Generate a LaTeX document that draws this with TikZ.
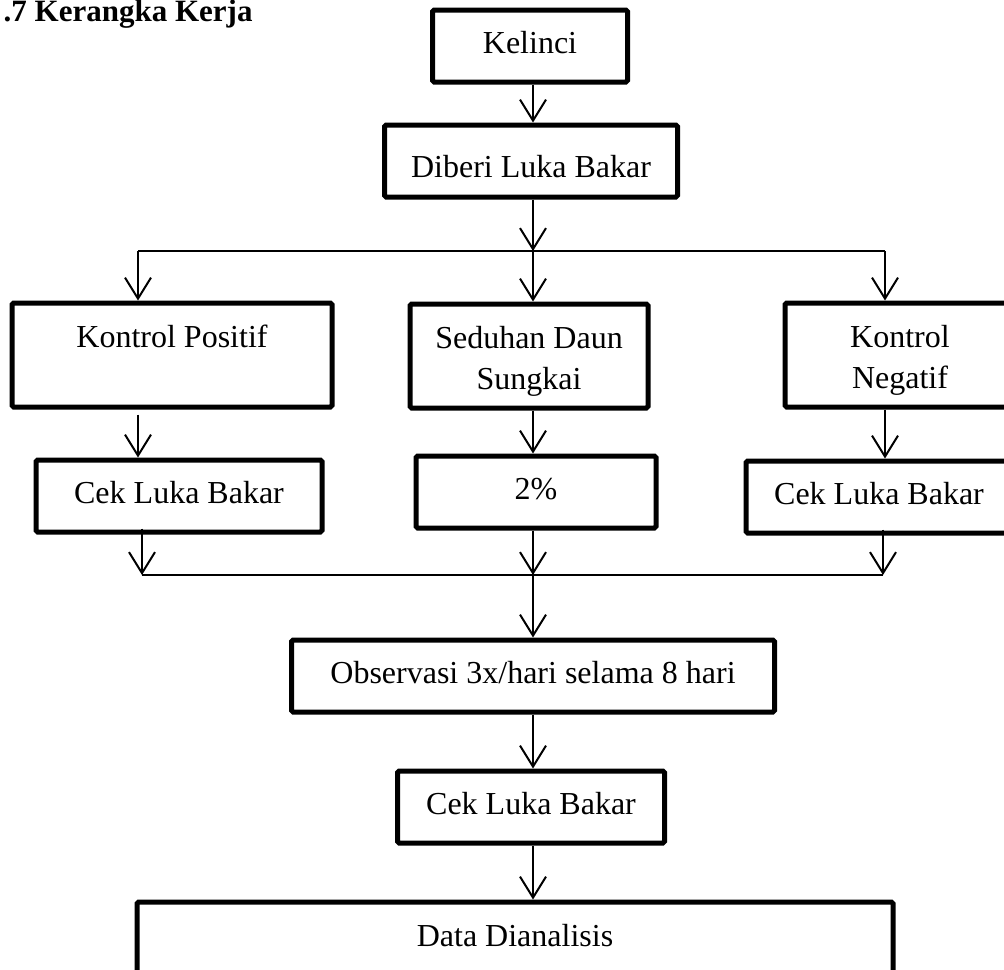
\documentclass[tikz,border=0pt]{standalone}
\usepackage{fontspec}
\setmainfont{Liberation Serif}
\usepackage{tikz}
\usetikzlibrary{arrows.meta}
\usetikzlibrary{calc}
\tikzset{>={Straight Barb[length=10.5pt,width=13pt]}}
\tikzset{
  kotak/.style={draw,line width=2.5pt,rounded corners=0.8pt,inner sep=0pt,align=center,font=\fontsize{16}{20.5}\selectfont},
  satu/.style={kotak,minimum height=36pt,text height=11.5pt,text depth=4.5pt},
  dua/.style={kotak,minimum height=52pt}
}
\newcommand{\barisatas}{\rule{0pt}{16pt}}
\newcommand{\barisbawah}{\rule[-3.5pt]{0pt}{0pt}}

\begin{document}
\begin{tikzpicture}[x=0.5pt,y=-0.5pt,line width=1pt]
    \useasboundingbox (0,0) rectangle (1004,969);
    \node[anchor=base west,font=\fontsize{15.5}{18}\selectfont\bfseries] (judul) at (-4,21) {.7 Kerangka Kerja};

    \node[satu,minimum width=97.5pt] (kelinci) at (530,46) {Kelinci};
    \node[satu,minimum width=146.5pt,text height=16pt,text depth=0pt] (luka) at (531,161) {Diberi Luka Bakar};

    \node[dua,minimum width=160pt] (kpos) at (172,355) {\barisatas Kontrol Positif\\ \barisbawah};
    \node[dua,minimum width=119pt] (sedu) at (529,356) {\barisatas Seduhan Daun\\Sungkai};
    \node[dua,minimum width=115pt] (kneg) at (900,355) {\barisatas Kontrol\\Negatif};

    \node[satu,minimum width=143pt] (cekA) at (179,496) {Cek Luka Bakar};
    \node[satu,minimum width=120pt] (persen) at (536,492) {2\%};
    \node[satu,minimum width=133pt] (cekB) at (879,497) {Cek Luka Bakar};

    \node[satu,minimum width=241.5pt] (obs) at (533,676) {Observasi 3x/hari selama 8 hari};
    \node[satu,minimum width=133.5pt] (cekC) at (531,807) {Cek Luka Bakar};
    \node[dua,minimum width=378pt] (data) at (515,954) {\barisatas Data Dianalisis\\ \barisbawah};

    \coordinate (bagiL) at (138,251);
    \coordinate (bagiM) at (533,251);
    \coordinate (bagiR) at (885,251);
    \coordinate (gabungL) at (142,575);
    \coordinate (gabungM) at (533,575);
    \coordinate (gabungR) at (883,575);

    \draw[->] (kelinci.south -| bagiM) -- (bagiM |- luka.north);
    \draw[->] (luka.south -| bagiM) -- (bagiM);
    \draw (bagiL) -- (bagiR);
    \foreach \k/\n in {bagiL/kpos,bagiM/sedu,bagiR/kneg} {
      \draw[->] (\k) -- (\k |- \n.north);
    }
    \draw[->] ($(bagiL |- kpos.south)+(0,5)$) -- (bagiL |- cekA.north);
    \draw[->] (bagiM |- sedu.south) -- (bagiM |- persen.north);
    \draw[->] (bagiR |- kneg.south) -- (bagiR |- cekB.north);

    \draw[->] ($(gabungL |- cekA.south)+(0,-6)$) -- (gabungL);
    \draw[->] (gabungM |- persen.south) -- (gabungM);
    \draw[->] ($(gabungR |- cekB.south)+(0,-6)$) -- (gabungR);
    \draw (gabungL) -- (gabungR);

    \draw[->] (gabungM) -- (gabungM |- obs.north);
    \draw[->] (obs.south -| gabungM) -- (gabungM |- cekC.north);
    \draw[->] (cekC.south -| gabungM) -- (gabungM |- data.north);
\end{tikzpicture}
\end{document}
